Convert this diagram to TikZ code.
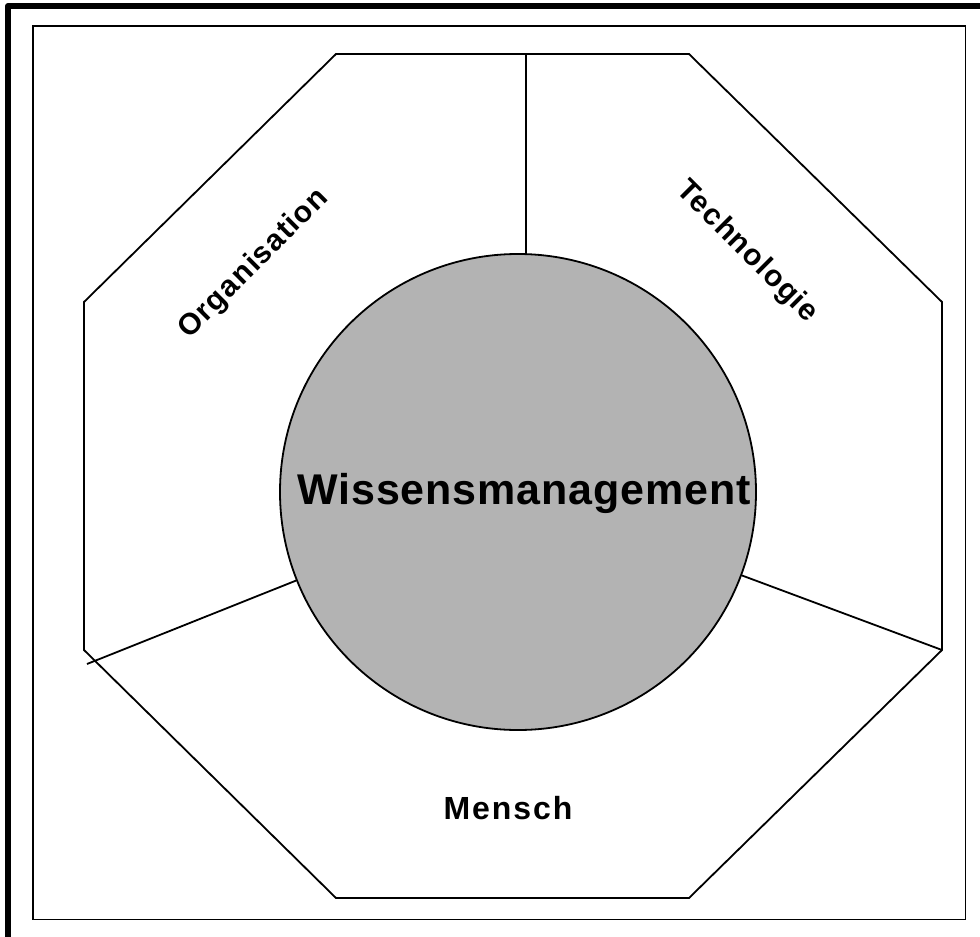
\documentclass[tikz,border=0pt]{standalone}
\usepackage{fontspec}
\setmainfont{Liberation Sans}
\newfontfamily\lsans[LetterSpace=4]{Liberation Sans}
\newfontfamily\msans[LetterSpace=6]{Liberation Sans}
\newfontfamily\wsans[LetterSpace=2]{Liberation Sans}
\begin{document}
\begin{tikzpicture}[x=1pt,y=-1pt,
  thin line/.style={line width=1.8pt,black},
  lbl/.style={font=\lsans\bfseries\fontsize{30}{34}\selectfont, inner sep=0pt}]
\useasboundingbox (0,0) rectangle (980,937);
% frames
\draw[line width=6pt,line join=round] (8,940) -- (8,6) -- (983,6);
\node[draw,thin line,minimum width=932.5pt,minimum height=893.5pt,inner sep=0pt,anchor=north west] (frame) at (32,25) {};
% octagon
\coordinate (o1) at (336,54);
\coordinate (o2) at (689,54);
\coordinate (o3) at (942,302);
\coordinate (o4) at (942,650);
\coordinate (o5) at (689,898);
\coordinate (o6) at (336,898);
\coordinate (o7) at (84,650);
\coordinate (o8) at (84,302);
\draw[thin line,line join=miter] (o1) -- (o2) -- (o3) -- (o4) -- (o5) -- (o6) -- (o7) -- (o8) -- cycle;
% circle
\node[circle,draw,thin line,fill={rgb,255:red,179;green,179;blue,179},minimum size=476pt,inner sep=0pt] (c) at (518,492) {};
\coordinate (t) at (526,54);
\coordinate (tb) at (526,255);
\coordinate (l) at (87,664);
\draw[thin line] (t) -- (tb);
\draw[thin line] (c) -- (l);
\draw[thin line] (c) -- (o4);
% labels
\node[font=\wsans\bfseries\fontsize{43}{48}\selectfont,inner sep=0pt] (wm) at (524,493) {Wissensmanagement};
\node[lbl,rotate=45] (org) at (254,264) {Organisation};
\node[lbl,rotate=-45] (tech) at (747,252) {Technologie};
\node[font=\msans\bfseries\fontsize{32}{36}\selectfont,inner sep=0pt] (men) at (508,808) {Mensch};
\end{tikzpicture}
\end{document}
